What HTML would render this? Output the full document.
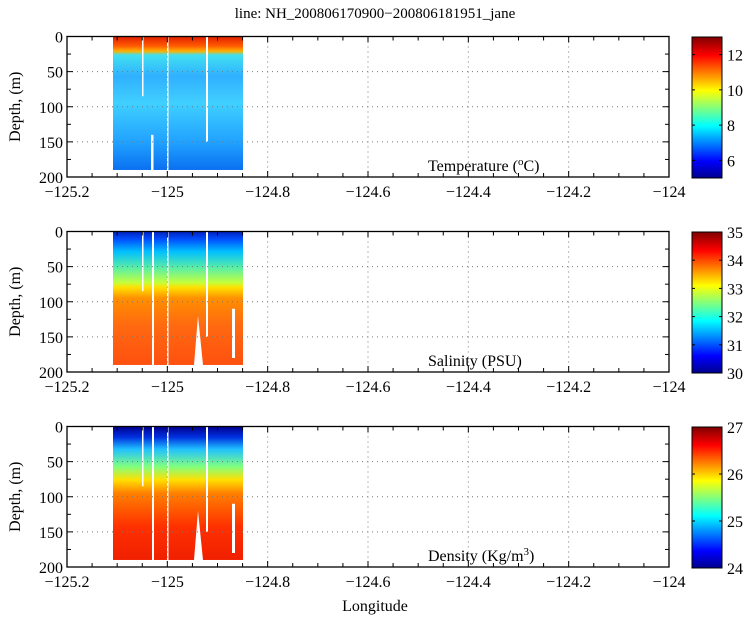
<!DOCTYPE html>
<html><head><meta charset="utf-8"><style>
body{margin:0;background:#fff}
svg{display:block}
text{font-family:"Liberation Serif","DejaVu Serif",serif}
</style></head><body>
<svg id="s" width="750" height="618" viewBox="0 0 750 618" xmlns="http://www.w3.org/2000/svg" font-family="Liberation Serif, serif">
<defs>
<linearGradient id="jet" x1="0" y1="1" x2="0" y2="0">
<stop offset="0" stop-color="#00008f"/><stop offset="0.12" stop-color="#0000ff"/>
<stop offset="0.37" stop-color="#00ffff"/><stop offset="0.62" stop-color="#ffff00"/>
<stop offset="0.87" stop-color="#ff0000"/><stop offset="1" stop-color="#800000"/>
</linearGradient>
<linearGradient id="g0" x1="0" y1="0" x2="0" y2="1">
<stop offset="0" stop-color="#e02000"/><stop offset="0.07" stop-color="#ff5a00"/>
<stop offset="0.11" stop-color="#ffb000"/><stop offset="0.14" stop-color="#40e0f0"/>
<stop offset="0.3" stop-color="#30b0ff"/><stop offset="0.5" stop-color="#40d0ff"/>
<stop offset="0.8" stop-color="#20a0ff"/><stop offset="1" stop-color="#0a70f0"/>
</linearGradient>
<linearGradient id="g1" x1="0" y1="0" x2="0" y2="1">
<stop offset="0" stop-color="#0020c0"/><stop offset="0.06" stop-color="#0050ff"/>
<stop offset="0.15" stop-color="#00c0ff"/><stop offset="0.28" stop-color="#60f0a0"/>
<stop offset="0.38" stop-color="#c0ff40"/><stop offset="0.42" stop-color="#ffe000"/>
<stop offset="0.5" stop-color="#ff9000"/><stop offset="0.7" stop-color="#ff6a10"/>
<stop offset="1" stop-color="#ff5010"/>
</linearGradient>
<linearGradient id="g2" x1="0" y1="0" x2="0" y2="1">
<stop offset="0" stop-color="#00008f"/><stop offset="0.08" stop-color="#0030e0"/>
<stop offset="0.17" stop-color="#20c0ff"/><stop offset="0.3" stop-color="#80ff80"/>
<stop offset="0.4" stop-color="#ffe000"/><stop offset="0.5" stop-color="#ff8000"/>
<stop offset="0.75" stop-color="#ff3000"/><stop offset="1" stop-color="#f02000"/>
</linearGradient>
</defs>
<text x="375" y="18" font-size="15" text-anchor="middle" font-family="Liberation Serif, serif">line: NH_200806170900−200806181951_jane</text>
<text x="375" y="611" font-size="16" text-anchor="middle" font-family="Liberation Serif, serif">Longitude</text>
</svg>
<script>
var s=document.getElementById('s'),h='',F=' font-family="Liberation Serif, serif"';
var L=67,R=669,labs=[['Temperature (','o','C)'],['Salinity (PSU)'],['Density (Kg/m','3',')']];
var cb=[[5,13,[6,8,10,12]],[30,35,[30,31,32,33,34,35]],[24,27,[24,25,26,27]]];
for(var p=0;p<3;p++){
 var o=p*195,T=36.5+o,B=177+o,dy=(B-T)/200;
 h+='<rect x="113" y="'+T+'" width="130" height="'+(190*dy)+'" fill="url(#g'+p+')"/>';
 [[142,1.5,0,85],[152,2,0,190],[167,1.5,0,190],[206,2,0,150]].forEach(function(g){
  if(p==0&&g[0]==152){h+='<rect x="151" y="'+(T+140*dy)+'" width="2.5" height="'+(50*dy)+'" fill="#fff"/>';return;}
  h+='<rect x="'+g[0]+'" y="'+(T+g[2]*dy)+'" width="'+g[1]+'" height="'+(g[3]*dy)+'" fill="#fff"/>';});
 if(p>0){h+='<polygon points="194,'+(T+190*dy)+' 198,'+(T+120*dy)+' 203,'+(T+190*dy)+'" fill="#fff"/>';
  h+='<rect x="232" y="'+(T+110*dy)+'" width="3" height="'+(70*dy)+'" fill="#fff"/>';}
 for(var i=1;i<6;i++){var x=L+i*(R-L)/6;h+='<line x1="'+x+'" y1="'+T+'" x2="'+x+'" y2="'+B+'" stroke="#777" stroke-dasharray="1,4"/>';}
 for(var d=50;d<200;d+=50){var y=T+d*dy;h+='<line x1="'+L+'" y1="'+y+'" x2="'+R+'" y2="'+y+'" stroke="#777" stroke-dasharray="1,4"/>';}
 h+='<rect x="'+L+'" y="'+T+'" width="'+(R-L)+'" height="'+(B-T)+'" fill="none" stroke="#000" stroke-width="1.3"/>';
 for(var i=0;i<=24;i++){var x=L+i*(R-L)/24,len=i%4==0?6:4;
  h+='<line x1="'+x+'" y1="'+T+'" x2="'+x+'" y2="'+(T+len)+'" stroke="#000"/><line x1="'+x+'" y1="'+B+'" x2="'+x+'" y2="'+(B-len)+'" stroke="#000"/>';
  if(i%4==0){var v=(-125.2+i*0.05).toFixed(1).replace(/\.0$/,'').replace('-','−');h+='<text x="'+x+'" y="'+(B+20)+'" font-size="16" text-anchor="middle"'+F+'>'+v+'</text>';}}
 for(var d=0;d<=200;d+=25){var y=T+d*dy,len=d%50==0?6:4;
  h+='<line x1="'+L+'" y1="'+y+'" x2="'+(L+len)+'" y2="'+y+'" stroke="#000"/><line x1="'+R+'" y1="'+y+'" x2="'+(R-len)+'" y2="'+y+'" stroke="#000"/>';
  if(d%50==0)h+='<text x="'+(L-4)+'" y="'+(y+6)+'" font-size="16" text-anchor="end"'+F+'>'+d+'</text>';}
 h+='<text transform="translate(20,'+((T+B)/2)+') rotate(-90)" font-size="16" text-anchor="middle"'+F+'>Depth, (m)</text>';
 var lb=labs[p];
 if(lb.length==1)h+='<text x="428" y="'+(B-6)+'" font-size="16"'+F+'>'+lb[0]+'</text>';
 else h+='<text x="428" y="'+(B-6)+'" font-size="16"'+F+'>'+lb[0]+'<tspan dy="-6" font-size="11">'+lb[1]+'</tspan><tspan dy="6">'+lb[2]+'</tspan></text>';
 var c=cb[p],ct=37+o,cbm=178+o;
 h+='<rect x="692" y="'+ct+'" width="30" height="'+(cbm-ct)+'" fill="url(#jet)" stroke="#000"/>';
 c[2].forEach(function(v){var y=cbm-(v-c[0])/(c[1]-c[0])*(cbm-ct);
  h+='<line x1="692" y1="'+y+'" x2="695" y2="'+y+'" stroke="#000"/><line x1="722" y1="'+y+'" x2="719" y2="'+y+'" stroke="#000"/>';
  h+='<text x="727" y="'+(y+6)+'" font-size="16"'+F+'>'+v+'</text>';});
}
s.insertAdjacentHTML('beforeend',h);
</script>
</body></html>
